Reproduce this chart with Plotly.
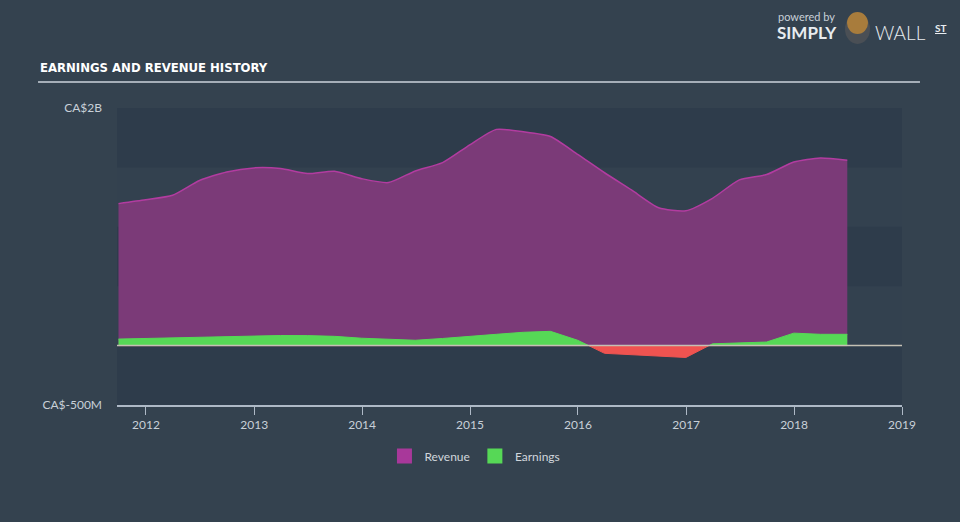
import plotly.graph_objects as go
import pandas as pd

dates = ["2011-09-30", "2011-12-31", "2012-03-31", "2012-06-30", "2012-09-30", "2012-12-31",
         "2013-03-31", "2013-06-30", "2013-09-30", "2013-12-31", "2014-03-31", "2014-06-30",
         "2014-09-30", "2014-12-31", "2015-03-31", "2015-06-30", "2015-09-30", "2015-12-31",
         "2016-03-31", "2016-06-30", "2016-09-30", "2016-12-31", "2017-03-31", "2017-06-30",
         "2017-09-30", "2017-12-31", "2018-03-31", "2018-06-30"]
revenue = [1195, 1227, 1265, 1390, 1462, 1496, 1490, 1448, 1468, 1405, 1372, 1470,
           1540, 1690, 1820, 1800, 1760, 1610, 1455, 1310, 1160, 1135, 1240, 1395,
           1440, 1545, 1580, 1560]
earnings = [55, 60, 65, 72, 76, 84, 85, 84, 78, 62, 55, 45,
            60, 80, 95, 112, 120, 45, -65, -75, -88, -100, 15, 20,
            30, 105, 95, 95]
y_tick_vals = [-500, 2000]
y_tick_text = ["CA$-500M", "CA$2B"]
x_tick_vals = ["2012-01-01", "2013-01-01", "2014-01-01", "2015-01-01", "2016-01-01",
               "2017-01-01", "2018-01-01", "2019-01-01"]
x_tick_text = ["2012", "2013", "2014", "2015", "2016", "2017", "2018", "2019"]

t = pd.to_datetime(dates)
ts = [d.value for d in t]

# split earnings into positive / negative parts with zero crossings
px_, py_, nx_, ny_ = [], [], [], []
for i in range(len(ts)):
    if i > 0 and (earnings[i - 1] > 0) != (earnings[i] > 0):
        e0, e1 = earnings[i - 1], earnings[i]
        f = e0 / (e0 - e1)
        tc = ts[i - 1] + f * (ts[i] - ts[i - 1])
        px_.append(tc); py_.append(0)
        nx_.append(tc); ny_.append(0)
    px_.append(ts[i]); py_.append(max(earnings[i], 0))
    nx_.append(ts[i]); ny_.append(min(earnings[i], 0))
px_ = pd.to_datetime(px_)
nx_ = pd.to_datetime(nx_)

BG = "#34424f"
fig = go.Figure()
fig.add_trace(go.Scatter(x=t, y=revenue, mode="lines", line=dict(color="#b23ca0", width=1.5, shape="spline", smoothing=0.6),
                         fill="tozeroy", fillcolor="#7b3a78", showlegend=False, hoverinfo="skip"))
fig.add_trace(go.Scatter(x=px_, y=py_, mode="lines", line=dict(color="#56d856", width=1),
                         fill="tozeroy", fillcolor="#56d856", showlegend=False, hoverinfo="skip"))
fig.add_trace(go.Scatter(x=nx_, y=ny_, mode="lines", line=dict(color="#ef5350", width=1),
                         fill="tozeroy", fillcolor="#ef5350", showlegend=False, hoverinfo="skip"))
fig.add_trace(go.Scatter(x=[None], y=[None], mode="markers", name="Revenue",
                         marker=dict(symbol="square", size=15, color="#a8389a")))
fig.add_trace(go.Scatter(x=[None], y=[None], mode="markers", name="Earnings",
                         marker=dict(symbol="square", size=15, color="#56d856")))

shapes = []
for lo, hi in [(1500, 2000), (500, 1000), (-500, 0)]:
    shapes.append(dict(type="rect", xref="paper", yref="y", x0=0, x1=1, y0=lo, y1=hi,
                       fillcolor="#2e3c4b", line=dict(width=0), layer="below"))
shapes.append(dict(type="line", xref="paper", yref="y", x0=0, x1=1, y0=0, y1=0,
                   line=dict(color="#c4c0b4", width=1.5), layer="above"))
shapes.append(dict(type="line", xref="paper", yref="paper", x0=-0.1006, x1=1.0229, y0=1.0875, y1=1.0875,
                   line=dict(color="#a5aeb8", width=2)))
# logo icon
shapes.append(dict(type="circle", xref="paper", yref="paper", x0=(845-117)/785, x1=(870-117)/785,
                   y0=(405-44)/297, y1=(405-14)/297, fillcolor="#4a4f55", line=dict(width=0)))
shapes.append(dict(type="circle", xref="paper", yref="paper", x0=(847-117)/785, x1=(868-117)/785,
                   y0=(405-34)/297, y1=(405-12)/297, fillcolor="#a87c3c", line=dict(width=0)))

annotations = [
    dict(text="<b>EARNINGS AND REVENUE HISTORY</b>", xref="paper", yref="paper", x=-0.1006, y=1.1347,
         xanchor="left", yanchor="middle", showarrow=False,
         font=dict(family="DejaVu Sans Condensed, Liberation Sans Narrow, sans-serif", size=13, color="#ffffff")),
    dict(text="powered by", xref="paper", yref="paper", x=(776-117)/785, y=(405-17)/297,
         xanchor="left", yanchor="middle", showarrow=False,
         font=dict(family="Lato, sans-serif", size=11, color="#c8d0d8")),
    dict(text="<b>SIMPLY</b>", xref="paper", yref="paper", x=(775-117)/785, y=(405-32)/297,
         xanchor="left", yanchor="middle", showarrow=False,
         font=dict(family="Lato, sans-serif", size=17, color="#e8ecf0")),
    dict(text="WALL", xref="paper", yref="paper", x=(873-117)/785, y=(405-32)/297,
         xanchor="left", yanchor="middle", showarrow=False,
         font=dict(family="Lato, sans-serif", size=19, color="#e8ecf0", weight=300)),
    dict(text="<b><u>ST</u></b>", xref="paper", yref="paper", x=(933-117)/785, y=(405-28)/297,
         xanchor="left", yanchor="middle", showarrow=False,
         font=dict(family="Lato, sans-serif", size=10, color="#e8ecf0")),
]

fig.update_layout(
    width=960, height=522,
    margin=dict(l=117, r=58, t=108, b=117),
    paper_bgcolor=BG, plot_bgcolor="#33414f",
    font=dict(family="Lato, Open Sans, sans-serif", color="#c8d0d8", size=12),
    shapes=shapes, annotations=annotations,
    legend=dict(orientation="h", x=0.456, xanchor="center", y=-0.172, yanchor="middle",
                font=dict(size=12, color="#d0d6dc"), bgcolor="rgba(0,0,0,0)", itemwidth=30),
    xaxis=dict(type="date", range=["2011-09-25", "2019-01-01"], tickvals=x_tick_vals, ticktext=x_tick_text,
               showgrid=False, zeroline=False, showline=True, linecolor="#aeb9c6", linewidth=1.5,
               ticks="outside", ticklen=8, tickcolor="#aeb9c6", tickfont=dict(size=12, color="#c8d0d8")),
    yaxis=dict(range=[-500, 2000], tickvals=y_tick_vals, ticktext=y_tick_text, showgrid=False,
               zeroline=False, showline=False, ticks="", ticklabelstandoff=14,
               tickfont=dict(size=12, color="#c8d0d8")),
)
fig.write_html("out.html")
